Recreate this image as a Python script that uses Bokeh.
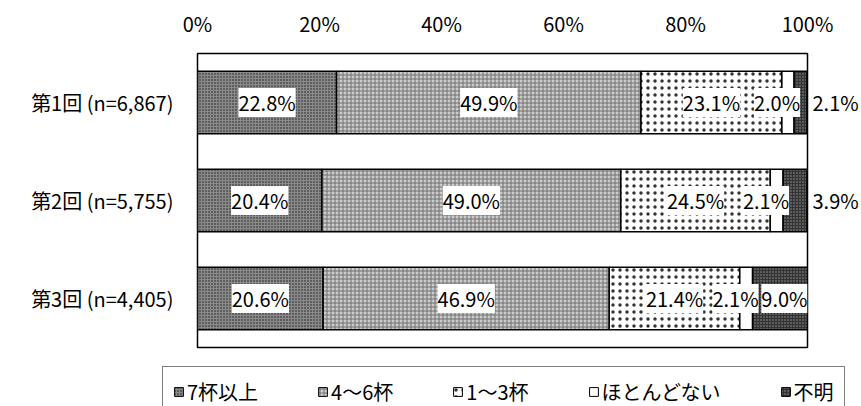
import numpy as np
from bokeh.plotting import figure
from bokeh.layouts import column, row
from bokeh.models import (Range1d, FactorRange, FixedTicker, PrintfTickFormatter, ColumnDataSource,
                          LabelSet, Legend, LegendItem, CategoricalAxis, Spacer)
from bokeh.core.properties import value
from bokeh.embed import file_html
from bokeh.resources import INLINE

# ---- data ----
categories = ["第1回 (n=6,867)", "第2回 (n=5,755)", "第3回 (n=4,405)"]
series_names = ["7杯以上", "4～6杯", "1～3杯", "ほとんどない", "不明"]
s_7plus = [22.8, 20.4, 20.6]
s_4to6 = [49.9, 49.0, 46.9]
s_1to3 = [23.1, 24.5, 21.4]
s_rarely = [2.0, 2.1, 2.1]
s_unknown = [2.1, 3.9, 9.0]
x_ticks = [0, 20, 40, 60, 80, 100]

FONT = "Noto Sans CJK JP"
series_values = [s_7plus, s_4to6, s_1to3, s_rarely, s_unknown]
styles = [
    dict(fill_color="#8a8a8a", hatch_pattern=".", hatch_color="#1a1a1a", hatch_scale=3, hatch_weight=1),
    dict(fill_color="#cccccc", hatch_pattern="+", hatch_color="#707070", hatch_scale=4, hatch_weight=1),
    dict(fill_color="white", hatch_pattern=".", hatch_color="#333333", hatch_scale=7, hatch_weight=1),
    dict(fill_color="white"),
    dict(fill_color="#333333", hatch_pattern=".", hatch_color="#999999", hatch_scale=3, hatch_weight=1),
]


def fmt(v):
    return f"{v:.1f}%"


p = figure(width=861, height=366, y_range=list(reversed(categories)), x_range=Range1d(0, 100),
           x_axis_location="above", output_backend="svg", toolbar_location=None,
           min_border_left=197, min_border_right=51, min_border_top=53, min_border_bottom=19)

p.xgrid.visible = False
p.ygrid.visible = False
p.outline_line_color = "black"
p.outline_line_width = 1.5
p.background_fill_color = "white"

xa = p.xaxis[0]
xa.ticker = FixedTicker(ticks=x_ticks)
xa.formatter = PrintfTickFormatter(format="%d%%")
xa.axis_line_color = None
xa.major_tick_line_color = None
xa.minor_tick_line_color = None
xa.major_tick_out = 0
xa.major_tick_in = 0
xa.major_label_standoff = 16
xa.major_label_text_font = FONT
xa.major_label_text_font_size = "20px"
xa.major_label_text_color = "black"

ya = p.yaxis[0]
ya.axis_line_color = None
ya.major_tick_line_color = None
ya.major_tick_out = 0
ya.major_tick_in = 0
ya.major_label_standoff = 24
ya.major_label_text_font = FONT
ya.major_label_text_font_size = "20px"
ya.major_label_text_color = "black"

left = np.zeros(len(categories))
bounds = []
for vals, st in zip(series_values, styles):
    right = left + np.array(vals)
    src = ColumnDataSource(dict(y=categories, left=left, right=right))
    p.hbar(y="y", left="left", right="right", height=0.64, source=src,
           line_color="black", line_width=1.5, **st)
    bounds.append((left.copy(), right.copy(), vals))
    left = right

label_kw = dict(text_font=value(FONT), text_font_size="20px", text_color="black",
                text_baseline="middle", background_fill_color="white")

# centred labels for first three series
cx, cy, ct = [], [], []
for lft, rgt, vals in bounds[:3]:
    for i, c in enumerate(categories):
        cx.append((lft[i] + rgt[i]) / 2)
        cy.append(c)
        ct.append(fmt(vals[i]))
p.add_layout(LabelSet(x="x", y="y", text="t", source=ColumnDataSource(dict(x=cx, y=cy, t=ct)),
                      text_align="center", **label_kw))

# "ほとんどない" labels, right-aligned near segment end
lft, rgt, vals = bounds[3]
p.add_layout(LabelSet(x="x", y="y", text="t", x_offset=6,
                      source=ColumnDataSource(dict(x=list(rgt), y=categories, t=[fmt(v) for v in vals])),
                      text_align="right", **label_kw))

# "不明" labels: small values beside the bar (right axis), large value inside the bar end
lft, rgt, vals = bounds[4]
large = [i for i, v in enumerate(vals) if v >= 5]
p.add_layout(LabelSet(x="x", y="y", text="t", x_offset=0,
                      source=ColumnDataSource(dict(x=[rgt[i] for i in large], y=[categories[i] for i in large],
                                                   t=[fmt(vals[i]) for i in large])),
                      text_align="right", **label_kw))

right_factors = [fmt(v) if v < 5 else " " * (i + 1) for i, v in enumerate(vals)]
p.extra_y_ranges = {"unk": FactorRange(factors=list(reversed(right_factors)))}
ra = CategoricalAxis(y_range_name="unk")
ra.axis_line_color = None
ra.major_tick_line_color = None
ra.major_tick_out = 0
ra.major_tick_in = 0
ra.major_label_standoff = 5
ra.major_label_text_font = FONT
ra.major_label_text_font_size = "20px"
ra.major_label_text_color = "black"
p.add_layout(ra, "right")

# ---- legend strip ----
p2 = figure(width=699, height=40, x_range=Range1d(0, 1), y_range=Range1d(1, 2),
            output_backend="svg", toolbar_location=None,
            min_border_left=0, min_border_right=0, min_border_top=0, min_border_bottom=0)
p2.xaxis.visible = False
p2.yaxis.visible = False
p2.xgrid.visible = False
p2.ygrid.visible = False
p2.outline_line_color = None
items = []
for st, name in zip(styles, series_names):
    # placeholder glyph lying outside the visible range; only its legend swatch is shown
    dummy = ColumnDataSource(dict(y=[0], left=[0], right=[0]))
    r = p2.hbar(y="y", left="left", right="right", height=0.5, source=dummy,
                line_color="black", line_width=1, **st)
    items.append(LegendItem(label=name, renderers=[r]))

legend = Legend(items=items, orientation="horizontal", location="top_left",
                label_text_font=FONT, label_text_font_size="20px", label_text_color="black",
                glyph_width=11, glyph_height=11, label_standoff=3, spacing=59,
                padding=10, margin=0, border_line_color="black", border_line_width=1.5,
                background_fill_color="white", background_fill_alpha=1.0)
p2.add_layout(legend)

layout = column(p, row(Spacer(width=162, height=40), p2, spacing=0), spacing=0)
open("out.html", "w").write(file_html(layout, INLINE))
